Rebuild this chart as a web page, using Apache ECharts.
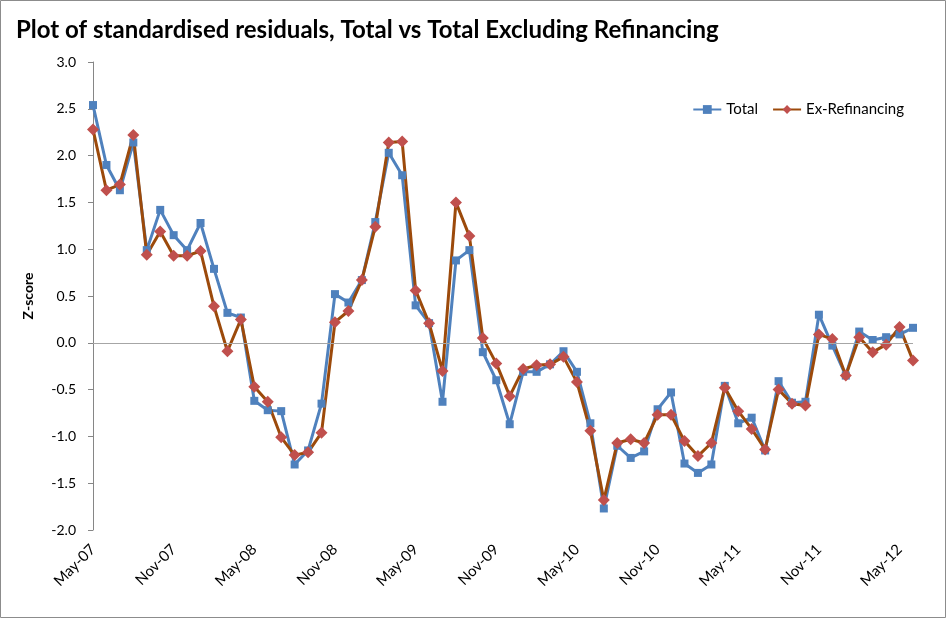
<!DOCTYPE html>
<html><head><meta charset="utf-8">
<script src="https://cdn.jsdelivr.net/npm/echarts@6/dist/echarts.min.js"></script>
<style>html,body{margin:0;padding:0;background:#fff}#c{width:947px;height:619px}</style>
</head><body><div id="c"></div>
<script>
var categories = ["May-07","Jun-07","Jul-07","Aug-07","Sep-07","Oct-07","Nov-07","Dec-07",
"Jan-08","Feb-08","Mar-08","Apr-08","May-08","Jun-08","Jul-08","Aug-08","Sep-08","Oct-08","Nov-08","Dec-08",
"Jan-09","Feb-09","Mar-09","Apr-09","May-09","Jun-09","Jul-09","Aug-09","Sep-09","Oct-09","Nov-09","Dec-09",
"Jan-10","Feb-10","Mar-10","Apr-10","May-10","Jun-10","Jul-10","Aug-10","Sep-10","Oct-10","Nov-10","Dec-10",
"Jan-11","Feb-11","Mar-11","Apr-11","May-11","Jun-11","Jul-11","Aug-11","Sep-11","Oct-11","Nov-11","Dec-11",
"Jan-12","Feb-12","Mar-12","Apr-12","May-12","Jun-12"];
var total = [2.54,1.90,1.63,2.14,0.99,1.42,1.15,0.99,1.28,0.79,0.32,0.27,-0.62,-0.72,-0.73,-1.30,-1.15,-0.65,0.52,0.43,
0.67,1.29,2.03,1.79,0.40,0.21,-0.63,0.88,0.99,-0.10,-0.40,-0.87,-0.31,-0.31,-0.23,-0.09,-0.31,-0.86,-1.77,-1.10,
-1.23,-1.16,-0.71,-0.53,-1.29,-1.39,-1.30,-0.46,-0.86,-0.80,-1.15,-0.41,-0.64,-0.63,0.30,-0.03,-0.35,0.12,0.03,0.06,0.09,0.16];
var exRefinancing = [2.28,1.63,1.69,2.22,0.94,1.19,0.93,0.93,0.98,0.39,-0.09,0.25,-0.47,-0.63,-1.01,-1.20,-1.17,-0.96,0.22,0.34,
0.67,1.24,2.14,2.15,0.56,0.21,-0.30,1.50,1.14,0.05,-0.22,-0.57,-0.28,-0.24,-0.23,-0.15,-0.42,-0.94,-1.68,-1.07,
-1.03,-1.07,-0.77,-0.77,-1.05,-1.21,-1.07,-0.48,-0.73,-0.92,-1.14,-0.50,-0.65,-0.67,0.09,0.04,-0.35,0.06,-0.10,-0.02,0.17,-0.19];
var yTicks = {min:-2, max:3, step:0.5};

var font = 'Lato, "Liberation Sans", sans-serif';
var chart = echarts.init(document.getElementById('c'), null, {renderer:'canvas'});
chart.setOption({
  animation:false,
  textStyle:{fontFamily:font},
  title:{text:'Plot of standardised residuals, Total vs Total Excluding Refinancing',left:11,top:13,
    textStyle:{fontFamily:font,fontSize:24,fontWeight:'bold',color:'#000'}},
  graphic:[{type:'rect',shape:{x:0.5,y:0.5,width:945,height:617},style:{fill:'none',stroke:'#8c8c8c',lineWidth:1},silent:true}],
  legend:{right:38,top:97,itemGap:14,itemWidth:28,itemHeight:11,
    textStyle:{fontFamily:font,fontSize:15,color:'#000'},
    data:['Total','Ex-Refinancing']},
  grid:{left:93,right:34,top:62,bottom:89,containLabel:false},
  xAxis:{type:'category',data:categories,boundaryGap:false,
    axisLine:{show:false},axisTick:{show:false},
    axisLabel:{interval:5,rotate:45,margin:17,fontSize:15,color:'#000',fontFamily:font}},
  yAxis:{type:'value',min:yTicks.min,max:yTicks.max,interval:yTicks.step,
    name:'Z-score',nameLocation:'middle',nameGap:58,nameRotate:90,
    nameTextStyle:{fontSize:14,fontWeight:'bold',color:'#000',fontFamily:font},
    axisLine:{show:true,lineStyle:{color:'#868686',width:1}},
    axisTick:{show:true,inside:false,length:5,lineStyle:{color:'#868686'}},
    splitLine:{show:false},
    axisLabel:{margin:17,fontSize:14,color:'#000',fontFamily:font,formatter:function(v){return v.toFixed(1);}}},
  series:[
    {name:'Total',type:'line',data:total,symbol:'rect',symbolSize:8,showAllSymbol:true,
      lineStyle:{color:'#4F81BD',width:3},itemStyle:{color:'#4F81BD'},
      markLine:{silent:true,symbol:'none',label:{show:false},lineStyle:{color:'#a6a6a6',width:1,type:'solid'},data:[{yAxis:0}]}},
    {name:'Ex-Refinancing',type:'line',data:exRefinancing,symbol:'diamond',symbolSize:12,showAllSymbol:true,
      lineStyle:{color:'#9C4A0B',width:3},itemStyle:{color:'#C0504D'}}
  ]
});
</script></body></html>
